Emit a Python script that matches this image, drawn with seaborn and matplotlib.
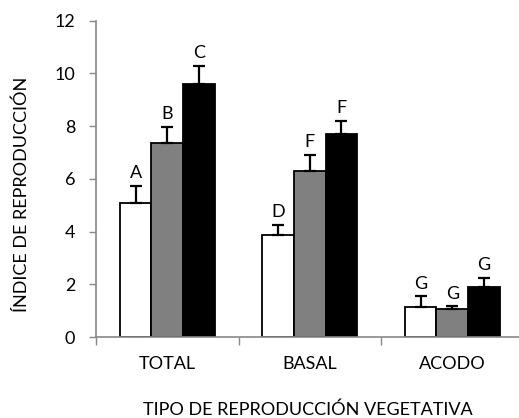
import matplotlib
matplotlib.use("Agg")
import matplotlib.pyplot as plt
import seaborn as sns
import pandas as pd
import numpy as np

categories = ["TOTAL", "BASAL", "ACODO"]
groups = ["G1", "G2", "G3"]
values_g1 = [5.10, 3.86, 1.15]
values_g2 = [7.36, 6.31, 1.06]
values_g3 = [9.58, 7.69, 1.89]
err_g1 = [0.63, 0.40, 0.39]
err_g2 = [0.61, 0.59, 0.10]
err_g3 = [0.72, 0.52, 0.36]
letters_g1 = ["A", "D", "G"]
letters_g2 = ["B", "F", "G"]
letters_g3 = ["C", "F", "G"]
colors = ["#ffffff", "#808080", "#000000"]

rows = []
for g, vals in zip(groups, [values_g1, values_g2, values_g3]):
    for c, v in zip(categories, vals):
        rows.append({"cat": c, "grp": g, "val": v})
df = pd.DataFrame(rows)

sns.set_style("white")
plt.rcParams['font.family'] = ['Lato', 'DejaVu Sans']
plt.rcParams['text.color'] = 'black'
plt.rcParams['xtick.color'] = 'black'
plt.rcParams['ytick.color'] = 'black'
plt.rcParams['axes.labelcolor'] = 'black'

FS = 13

fig = plt.figure(figsize=(5.19, 4.18), dpi=100)
ax = fig.add_axes([96/519, 81/418, 427.5/519, 316.3/418])

sns.barplot(data=df, x="cat", y="val", hue="grp", order=categories,
            hue_order=groups, palette=colors, edgecolor="black",
            linewidth=1.3, width=0.667, errorbar=None, legend=False, ax=ax)

errs = [err_g1, err_g2, err_g3]
lets = [letters_g1, letters_g2, letters_g3]
for cont, e, l in zip(ax.containers, errs, lets):
    for bar, ei, li in zip(cont, e, l):
        xc = bar.get_x() + bar.get_width() / 2
        h = bar.get_height()
        ax.errorbar(xc, h, yerr=[[0], [ei]], fmt="none", ecolor="black",
                    elinewidth=1.6, capsize=4.5, capthick=1.6)
        ax.annotate(li, (xc, h + ei), xytext=(0, 5.5), textcoords="offset points",
                    ha="center", va="baseline", fontsize=FS)

ax.set_xlim(-0.5, 2.5)
ax.set_ylim(0, 12)
ax.set_yticks(np.arange(0, 13, 2))
ax.tick_params(axis="y", labelsize=FS, length=5, width=1, color="#888888",
               labelcolor="black", direction="out", left=True, pad=10)
ax.tick_params(axis="x", which="major", length=0, labelsize=FS, pad=14,
               labelcolor="black")
ax.set_xticks([-0.5, 0.5, 1.5, 2.5], minor=True)
ax.tick_params(axis="x", which="minor", length=6, width=1, color="#888888",
               direction="out", bottom=True)
for s in ["top", "right"]:
    ax.spines[s].set_visible(False)
for s in ["left", "bottom"]:
    ax.spines[s].set_color("#888888")
    ax.spines[s].set_linewidth(1.2)

ax.set_xlabel("TIPO DE REPRODUCCIÓN VEGETATIVA", fontsize=FS)
ax.set_ylabel("ÍNDICE DE REPRODUCCIÓN", fontsize=FS)
ax.xaxis.label.set(va="center", ha="center")
ax.xaxis.set_label_coords((308 - 96) / 427.5, (337 - 410) / 316.3)
ax.yaxis.label.set(va="center", ha="center")
ax.yaxis.set_label_coords((22 - 96) / 427.5, (337 - 194.5) / 316.3)

fig.savefig("out.png", dpi=100)
